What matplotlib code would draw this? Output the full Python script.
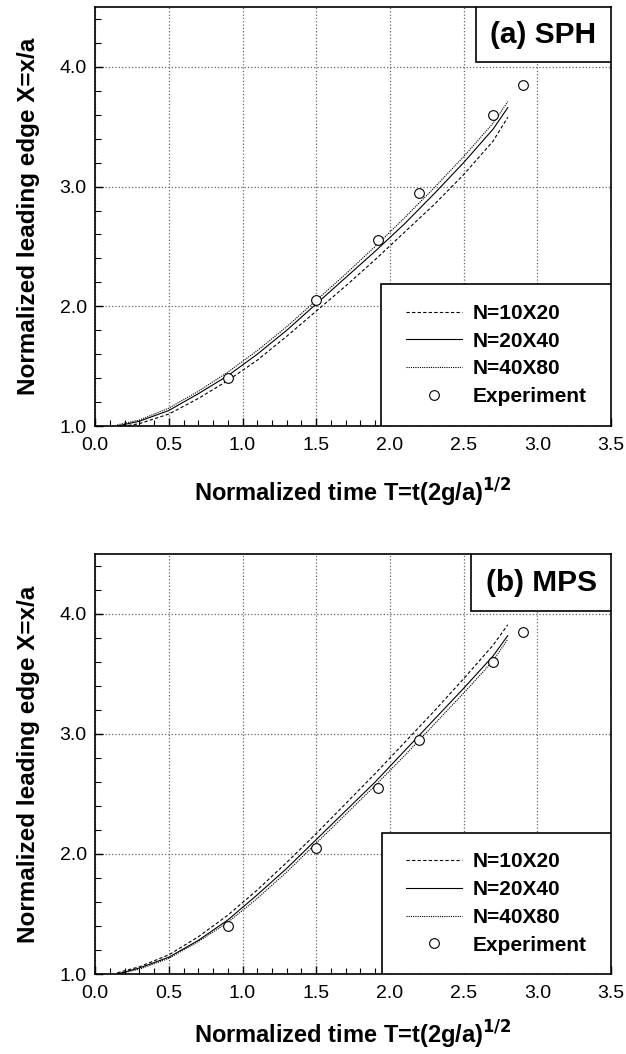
import matplotlib
matplotlib.use('Agg')
import matplotlib.pyplot as plt
from matplotlib.patches import Rectangle
from matplotlib.ticker import MultipleLocator, FormatStrFormatter
from matplotlib.lines import Line2D

plt.rcParams['font.family'] = ['Liberation Sans', 'DejaVu Sans']

# experiment (same for both panels)
t_exp = [0.9, 1.5, 1.92, 2.2, 2.7, 2.9]
x_exp = [1.40, 2.05, 2.55, 2.95, 3.60, 3.85]

# simulation curves
t_sim = [0.15, 0.3, 0.5, 0.7, 0.9, 1.1, 1.3, 1.5, 1.7, 1.9, 2.1, 2.3, 2.5, 2.7, 2.8]

sph_10x20 = [0.99, 1.02, 1.10, 1.23, 1.38, 1.55, 1.75, 1.96, 2.17, 2.39, 2.62, 2.85, 3.10, 3.38, 3.58]
sph_20x40 = [1.00, 1.04, 1.13, 1.27, 1.42, 1.60, 1.80, 2.02, 2.24, 2.46, 2.69, 2.94, 3.20, 3.48, 3.66]
sph_40x80 = [1.01, 1.05, 1.15, 1.29, 1.45, 1.63, 1.83, 2.05, 2.27, 2.50, 2.74, 2.99, 3.25, 3.53, 3.71]

mps_10x20 = [1.01, 1.06, 1.16, 1.31, 1.49, 1.70, 1.93, 2.17, 2.42, 2.67, 2.93, 3.19, 3.46, 3.74, 3.91]
mps_20x40 = [1.00, 1.05, 1.14, 1.28, 1.45, 1.66, 1.88, 2.12, 2.36, 2.60, 2.86, 3.12, 3.38, 3.65, 3.82]
mps_40x80 = [1.00, 1.04, 1.13, 1.27, 1.43, 1.63, 1.85, 2.09, 2.33, 2.57, 2.82, 3.08, 3.34, 3.61, 3.79]

labels = ['N=10X20', 'N=20X40', 'N=40X80', 'Experiment']

# title, curves, axes rect, title box (x0, y0), legend box (x0, y1), xlabel pad
panels = [
    ('(a) SPH', (sph_10x20, sph_20x40, sph_40x80), [0.152, 0.5958, 0.824, 0.3975], 0.738, 0.869, 0.554, 0.339, 16),
    ('(b) MPS', (mps_10x20, mps_20x40, mps_40x80), [0.152, 0.0759, 0.824, 0.3985], 0.729, 0.864, 0.556, 0.336, 12),
]

fig = plt.figure(figsize=(6.26, 10.54), dpi=100)

for title, curves, rect, tx0, ty0, lx0, ly1, xpad in panels:
    ax = fig.add_axes(rect)
    ax.set_xlim(0, 3.5)
    ax.set_ylim(1.0, 4.5)

    ax.grid(True, which='major', linestyle=':', color='#666666', linewidth=0.9)
    ax.set_axisbelow(True)

    ax.plot(t_sim, curves[0], color='black', lw=0.8, linestyle=(0, (3, 2)), zorder=3)
    ax.plot(t_sim, curves[1], color='black', lw=0.8, linestyle='-', zorder=3)
    ax.plot(t_sim, curves[2], color='black', lw=0.8, linestyle=(0, (1, 1)), zorder=3)
    ax.plot(t_exp, x_exp, linestyle='none', marker='o', markersize=7,
            mfc='white', mec='black', mew=0.8, zorder=4)

    ax.xaxis.set_major_locator(MultipleLocator(0.5))
    ax.xaxis.set_minor_locator(MultipleLocator(0.1))
    ax.yaxis.set_major_locator(MultipleLocator(1.0))
    ax.yaxis.set_minor_locator(MultipleLocator(0.2))
    ax.xaxis.set_major_formatter(FormatStrFormatter('%.1f'))
    ax.yaxis.set_major_formatter(FormatStrFormatter('%.1f'))
    ax.tick_params(which='both', direction='in', top=False, right=False, labelsize=14)
    ax.tick_params(axis='x', pad=8)
    ax.tick_params(axis='y', pad=6)
    ax.tick_params(which='major', length=6, width=1)
    ax.tick_params(which='minor', length=4, width=0.8)
    for sp in ax.spines.values():
        sp.set_linewidth(1.2)

    ax.set_xlabel('Normalized time T=t(2g/a)$^{\\mathbf{1/2}}$', fontsize=17,
                  fontweight='bold', labelpad=xpad)
    ax.set_ylabel('Normalized leading edge X=x/a', fontsize=17.5, fontweight='bold', labelpad=14)

    # title box
    ax.add_patch(Rectangle((tx0, ty0), 1 - tx0, 1 - ty0, transform=ax.transAxes,
                           facecolor='white', edgecolor='black', lw=1.2, zorder=5))
    ax.text((tx0 + 1) / 2, (ty0 + 1) / 2, title, transform=ax.transAxes,
            ha='center', va='center', fontsize=21.5, fontweight='bold', zorder=6)

    # legend box
    ax.add_patch(Rectangle((lx0, 0), 1 - lx0, ly1, transform=ax.transAxes,
                           facecolor='white', edgecolor='black', lw=1.2, zorder=5))
    handles = [
        Line2D([], [], color='black', lw=0.8, linestyle=(0, (3, 2))),
        Line2D([], [], color='black', lw=0.8, linestyle='-'),
        Line2D([], [], color='black', lw=0.8, linestyle=(0, (1, 1))),
        Line2D([], [], linestyle='none', marker='o', markersize=7, mfc='white',
               mec='black', mew=0.8),
    ]
    leg = ax.legend(handles, labels, loc='center', bbox_to_anchor=((lx0 + 1) / 2, ly1 / 2),
                    bbox_transform=ax.transAxes, frameon=False,
                    prop={'weight': 'bold', 'size': 15}, handlelength=2.7,
                    handletextpad=0.5, labelspacing=0.42)
    leg.set_zorder(6)

fig.savefig('out.png', dpi=100)
